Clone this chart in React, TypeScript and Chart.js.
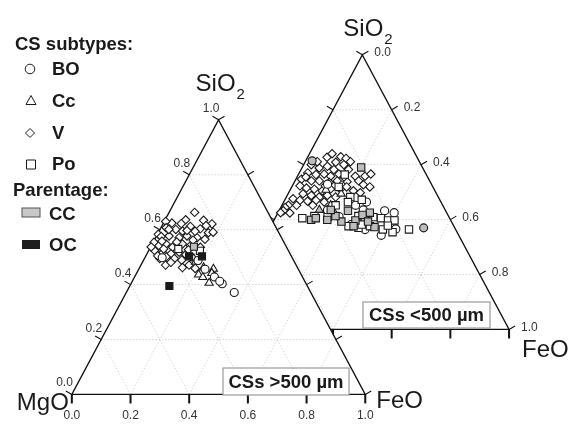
import React, { useEffect, useRef } from 'react';
import { Chart, registerables } from 'chart.js';

Chart.register(...registerables);

// Each point is [SiO2, FeO]; MgO = 1 - SiO2 - FeO (fractions)
type Pt = [number, number];

const tickValues = [0, 0.2, 0.4, 0.6, 0.8, 1.0];
const tickLabels = ['0.0', '0.2', '0.4', '0.6', '0.8', '1.0'];
const gridValues = [0.2, 0.4, 0.6, 0.8];

// ---- CSs > 500 µm (left triangle) ----
const largeV: Pt[] = [
  [0.663, 0.087], [0.636, 0.070], [0.634, 0.132], [0.621, 0.167], [0.624, 0.029], [0.630, 0.005],
  [0.607, 0.018], [0.601, 0.054], [0.595, 0.080], [0.612, 0.098], [0.603, 0.136], [0.589, 0.171],
  [0.591, 0.186], [0.583, 0.003], [0.575, 0.017], [0.577, 0.043], [0.571, 0.080], [0.577, 0.104],
  [0.571, 0.141], [0.565, 0.171], [0.554, 0.003], [0.542, 0.026], [0.548, 0.047], [0.536, 0.075],
  [0.548, 0.103], [0.542, 0.133], [0.536, 0.170], [0.524, 0.020], [0.516, 0.052], [0.512, 0.082],
  [0.518, 0.107], [0.509, 0.134], [0.495, 0.052], [0.501, 0.071], [0.495, 0.102], [0.489, 0.130],
  [0.471, 0.084], [0.462, 0.146], [0.471, 0.164], [0.459, 0.191], [0.537, 0.002], [0.505, 0.040],
  [0.555, 0.080], [0.562, 0.132], [0.601, 0.030], [0.594, 0.123], [0.622, 0.062], [0.615, 0.150],
  [0.558, 0.028], [0.481, 0.097], [0.527, 0.134], [0.530, 0.048], [0.597, 0.094],
];
const largeBO: Pt[] = [
  [0.456, 0.226], [0.428, 0.272], [0.403, 0.311], [0.371, 0.368], [0.412, 0.298], [0.498, 0.059], [0.488, 0.186],
];
const largeCc: Pt[] = [
  [0.495, 0.168], [0.483, 0.180], [0.462, 0.218], [0.457, 0.254], [0.442, 0.256], [0.436, 0.214],
  [0.427, 0.233], [0.406, 0.265], [0.427, 0.275],
];
const largePo: Pt[] = [[0.523, 0.175], [0.530, 0.098]];
const largeCC: Pt[] = [[0.538, 0.147]];
const largeOC: Pt[] = [[0.503, 0.148], [0.503, 0.192], [0.395, 0.135]];

// ---- CSs < 500 µm (right triangle) ----
const smallV: Pt[] = [
  [0.627, 0.066], [0.629, 0.112], [0.623, 0.133], [0.609, 0.105], [0.600, 0.137], [0.600, 0.026],
  [0.588, 0.059], [0.594, 0.084], [0.582, 0.112], [0.582, 0.162], [0.570, 0.029], [0.564, 0.060],
  [0.566, 0.087], [0.558, 0.113], [0.566, 0.137], [0.558, 0.197], [0.558, 0.230], [0.566, 0.246],
  [0.547, 0.019], [0.541, 0.056], [0.541, 0.083], [0.535, 0.120], [0.541, 0.144], [0.538, 0.179],
  [0.541, 0.217], [0.527, 0.240], [0.519, 0.266], [0.523, 0.026], [0.515, 0.052], [0.511, 0.081],
  [0.505, 0.111], [0.511, 0.136], [0.511, 0.170], [0.505, 0.217], [0.494, 0.051], [0.488, 0.082],
  [0.482, 0.112], [0.488, 0.137], [0.482, 0.168], [0.476, 0.026], [0.470, 0.052], [0.467, 0.080],
  [0.470, 0.107], [0.452, 0.022], [0.452, 0.050], [0.444, 0.015], [0.432, 0.015], [0.425, 0.009],
  [0.452, 0.105], [0.464, 0.138], [0.611, 0.041], [0.640, 0.077], [0.611, 0.154], [0.555, 0.160],
  [0.555, 0.030], [0.523, 0.112], [0.519, 0.187], [0.498, 0.244], [0.424, 0.041],
];
const smallPo: Pt[] = [
  [0.564, 0.158], [0.482, 0.218], [0.472, 0.262], [0.452, 0.183], [0.464, 0.219], [0.405, 0.093],
  [0.413, 0.130], [0.409, 0.177], [0.413, 0.280], [0.399, 0.309], [0.409, 0.333], [0.405, 0.361],
  [0.397, 0.389], [0.397, 0.411], [0.370, 0.302], [0.376, 0.338], [0.364, 0.388], [0.354, 0.426],
  [0.364, 0.477], [0.378, 0.398], [0.376, 0.265], [0.382, 0.307], [0.519, 0.160],
];
const smallCCsq: Pt[] = [
  [0.590, 0.201], [0.399, 0.126], [0.405, 0.139], [0.399, 0.181], [0.393, 0.232], [0.432, 0.235],
  [0.397, 0.278], [0.376, 0.282], [0.425, 0.313], [0.373, 0.355], [0.417, 0.292], [0.393, 0.323],
  [0.413, 0.202], [0.435, 0.175],
];
const smallBO: Pt[] = [
  [0.464, 0.282], [0.432, 0.360], [0.425, 0.396], [0.435, 0.286], [0.343, 0.393], [0.366, 0.431],
  [0.382, 0.271], [0.411, 0.215], [0.364, 0.327], [0.529, 0.117], [0.435, 0.164], [0.452, 0.251],
];
const smallCCcirc: Pt[] = [[0.370, 0.524], [0.614, 0.022]];
const smallCc: Pt[] = [[0.452, 0.166], [0.494, 0.181], [0.508, 0.122], [0.428, 0.189]];
const smallCCtri: Pt[] = [[0.435, 0.136]];

// layout of the two triangles in the shared value space
const LEFT = { ox: 0, oy: 0 };
const RIGHT = { ox: 0.49, oy: 0.2367 };

const FONT = "'Liberation Sans', Arial, Helvetica, sans-serif";
const WHITE = '#ffffff';
const GRAY = '#bdbdbd';
const BLACK = '#1a1a1a';

const toXY = (p: Pt, o: { ox: number; oy: number }) => ({ x: o.ox + p[1] + p[0] / 2, y: o.oy + p[0] });

const ds = (label: string, pts: Pt[], o: any, style: any, r: number, fill: string) => ({
  type: 'scatter' as const,
  label,
  data: pts.map((p) => toXY(p, o)),
  pointStyle: style,
  pointRadius: r,
  pointHoverRadius: r,
  pointBackgroundColor: fill,
  pointBorderColor: '#1a1a1a',
  pointBorderWidth: 1.1,
  showLine: false,
});

const LEFT_FIRST_DRAWN = 5;

function pix(chart: any, s: number, f: number, o: any) {
  return {
    x: chart.scales.x.getPixelForValue(o.ox + f + s / 2),
    y: chart.scales.y.getPixelForValue(o.oy + s),
  };
}

function line(ctx: CanvasRenderingContext2D, a: any, b: any) {
  ctx.beginPath();
  ctx.moveTo(a.x, a.y);
  ctx.lineTo(b.x, b.y);
  ctx.stroke();
}

function drawTriangle(chart: any, o: any, isLeft: boolean) {
  const ctx: CanvasRenderingContext2D = chart.ctx;
  const A = pix(chart, 0, 0, o); // MgO corner
  const B = pix(chart, 0, 1, o); // FeO corner
  const C = pix(chart, 1, 0, o); // SiO2 apex
  ctx.save();
  if (isLeft) {
    ctx.fillStyle = WHITE;
    ctx.beginPath();
    ctx.moveTo(A.x, A.y);
    ctx.lineTo(B.x, B.y);
    ctx.lineTo(C.x, C.y);
    ctx.closePath();
    ctx.fill();
  }
  // grid
  ctx.strokeStyle = '#c4c4c4';
  ctx.lineWidth = 0.8;
  ctx.setLineDash([1.2, 2]);
  for (const v of gridValues) {
    line(ctx, pix(chart, v, 0, o), pix(chart, v, 1 - v, o));
    line(ctx, pix(chart, 0, v, o), pix(chart, 1 - v, v, o));
    line(ctx, pix(chart, 0, 1 - v, o), pix(chart, 1 - v, 0, o));
  }
  ctx.setLineDash([]);
  // frame
  ctx.strokeStyle = '#111';
  ctx.lineWidth = 1.3;
  ctx.beginPath();
  ctx.moveTo(A.x, A.y);
  ctx.lineTo(B.x, B.y);
  ctx.lineTo(C.x, C.y);
  ctx.closePath();
  ctx.stroke();
  // ticks
  ctx.font = `12px ${FONT}`;
  ctx.fillStyle = '#333';
  tickValues.forEach((v, i) => {
    const L = pix(chart, v, 0, o);
    ctx.lineWidth = 1.1;
    line(ctx, L, { x: L.x - 6, y: L.y - 3.5 });
    const R = pix(chart, 1 - v, v, o);
    line(ctx, R, { x: R.x + 6, y: R.y - 3.5 });
    const Bt = pix(chart, 0, v, o);
    ctx.lineWidth = 2;
    line(ctx, Bt, { x: Bt.x, y: Bt.y + 9 });
    if (isLeft) {
      ctx.textAlign = 'right';
      ctx.textBaseline = 'alphabetic';
      ctx.fillText(tickLabels[i], L.x + 1, L.y - 8);
      ctx.textAlign = 'center';
      ctx.textBaseline = 'middle';
      ctx.fillText(tickLabels[i], Bt.x, Bt.y + 21);
    } else {
      ctx.textAlign = 'left';
      ctx.textBaseline = 'middle';
      ctx.fillText(tickLabels[i], R.x + 12, R.y - 2);
    }
  });
  // vertex labels
  ctx.fillStyle = '#1a1a1a';
  ctx.textBaseline = 'alphabetic';
  ctx.font = `24px ${FONT}`;
  const sx = C.x + (isLeft ? -23 : -19);
  const sy = C.y + (isLeft ? -29 : -19);
  ctx.textAlign = 'left';
  ctx.fillText('SiO', sx, sy);
  const w = ctx.measureText('SiO').width;
  ctx.font = `15px ${FONT}`;
  ctx.fillText('2', sx + w + 1, sy + 8);
  ctx.font = `24px ${FONT}`;
  if (isLeft) {
    ctx.textAlign = 'right';
    ctx.fillText('MgO', A.x - 3, A.y + 16);
    ctx.textAlign = 'left';
    ctx.fillText('FeO', B.x + 11, B.y + 14);
  } else {
    ctx.textAlign = 'left';
    ctx.fillText('FeO', B.x + 13, B.y + 28);
  }
  ctx.restore();
}

function textBox(ctx: CanvasRenderingContext2D, text: string, x: number, y: number, w: number, h: number) {
  ctx.save();
  ctx.fillStyle = WHITE;
  ctx.fillRect(x, y, w, h);
  ctx.strokeStyle = '#9a9a9a';
  ctx.lineWidth = 1.2;
  ctx.strokeRect(x, y, w, h);
  ctx.fillStyle = '#1a1a1a';
  ctx.font = `bold 18.5px ${FONT}`;
  ctx.textAlign = 'center';
  ctx.textBaseline = 'middle';
  ctx.fillText(text, x + w / 2, y + h / 2 + 1);
  ctx.restore();
}

function drawLegend(ctx: CanvasRenderingContext2D) {
  ctx.save();
  ctx.fillStyle = '#1a1a1a';
  ctx.font = `bold 18.5px ${FONT}`;
  ctx.textAlign = 'left';
  ctx.textBaseline = 'alphabetic';
  ctx.fillText('CS subtypes:', 15, 50);
  ctx.fillText('BO', 52, 75);
  ctx.fillText('Cc', 52, 107);
  ctx.fillText('V', 52, 139);
  ctx.fillText('Po', 52, 170);
  ctx.fillText('Parentage:', 13, 196);
  ctx.fillText('CC', 49, 220);
  ctx.fillText('OC', 49, 251);
  ctx.strokeStyle = '#1a1a1a';
  ctx.lineWidth = 1;
  ctx.fillStyle = WHITE;
  ctx.beginPath();
  ctx.arc(30, 69, 4.8, 0, Math.PI * 2);
  ctx.fill();
  ctx.stroke();
  ctx.beginPath();
  ctx.moveTo(31, 95.5);
  ctx.lineTo(36, 104.5);
  ctx.lineTo(26, 104.5);
  ctx.closePath();
  ctx.fill();
  ctx.stroke();
  ctx.beginPath();
  ctx.moveTo(30, 128.5);
  ctx.lineTo(34.5, 133);
  ctx.lineTo(30, 137.5);
  ctx.lineTo(25.5, 133);
  ctx.closePath();
  ctx.fill();
  ctx.stroke();
  ctx.beginPath();
  ctx.rect(26.5, 160, 9, 9);
  ctx.fill();
  ctx.stroke();
  ctx.fillStyle = '#c8c8c8';
  ctx.strokeStyle = '#555';
  ctx.fillRect(22, 208, 18, 9);
  ctx.strokeRect(22, 208, 18, 9);
  ctx.fillStyle = '#1e1e1e';
  ctx.fillRect(22, 240, 18, 9);
  ctx.restore();
}

const ternaryPlugin = {
  id: 'ternaryFrames',
  beforeDatasetsDraw(chart: any) {
    drawTriangle(chart, RIGHT, false);
  },
  beforeDatasetDraw(chart: any, args: any) {
    if (args.index === LEFT_FIRST_DRAWN) drawTriangle(chart, LEFT, true);
  },
  afterDatasetsDraw(chart: any) {
    const ctx = chart.ctx;
    textBox(ctx, 'CSs >500 µm', 223, 368, 126, 27);
    textBox(ctx, 'CSs <500 µm', 363, 302, 127, 26);
    drawLegend(ctx);
  },
};

export default function App() {
  const ref = useRef<HTMLCanvasElement | null>(null);
  useEffect(() => {
    if (!ref.current) return;
    const chart = new Chart(ref.current, {
      type: 'scatter',
      data: {
        datasets: [
          ds('OC >500', largeOC, LEFT, 'rect', 5, BLACK),
          ds('CC >500', largeCC, LEFT, 'rect', 5, GRAY),
          ds('Po >500', largePo, LEFT, 'rect', 5, WHITE),
          ds('BO >500', largeBO, LEFT, 'circle', 4, WHITE),
          ds('Cc >500', largeCc, LEFT, 'triangle', 4.7, WHITE),
          ds('V >500', largeV, LEFT, 'rectRot', 4.2, WHITE),
          ds('CC sq <500', smallCCsq, RIGHT, 'rect', 5.2, GRAY),
          ds('CC circ <500', smallCCcirc, RIGHT, 'circle', 4, GRAY),
          ds('CC tri <500', smallCCtri, RIGHT, 'triangle', 4.7, GRAY),
          ds('Po <500', smallPo, RIGHT, 'rect', 5.2, WHITE),
          ds('BO <500', smallBO, RIGHT, 'circle', 4.1, WHITE),
          ds('Cc <500', smallCc, RIGHT, 'triangle', 4.7, WHITE),
          ds('V <500', smallV, RIGHT, 'rectRot', 4.2, WHITE),
        ],
      },
      options: {
        responsive: false,
        animation: false,
        events: [],
        layout: { padding: 0 },
        plugins: { legend: { display: false }, tooltip: { enabled: false } },
        scales: {
          x: { type: 'linear', min: -0.2233, max: 1.6933, display: false },
          y: { type: 'linear', min: -0.0919, max: 1.4134, display: false },
        },
      },
      plugins: [ternaryPlugin],
    });
    return () => chart.destroy();
  }, []);
  return (
    <div style={{ position: 'fixed', left: 0, top: 0, width: 575, height: 426, background: '#fff' }}>
      <canvas ref={ref} width={575} height={426} style={{ display: 'block' }} />
    </div>
  );
}
